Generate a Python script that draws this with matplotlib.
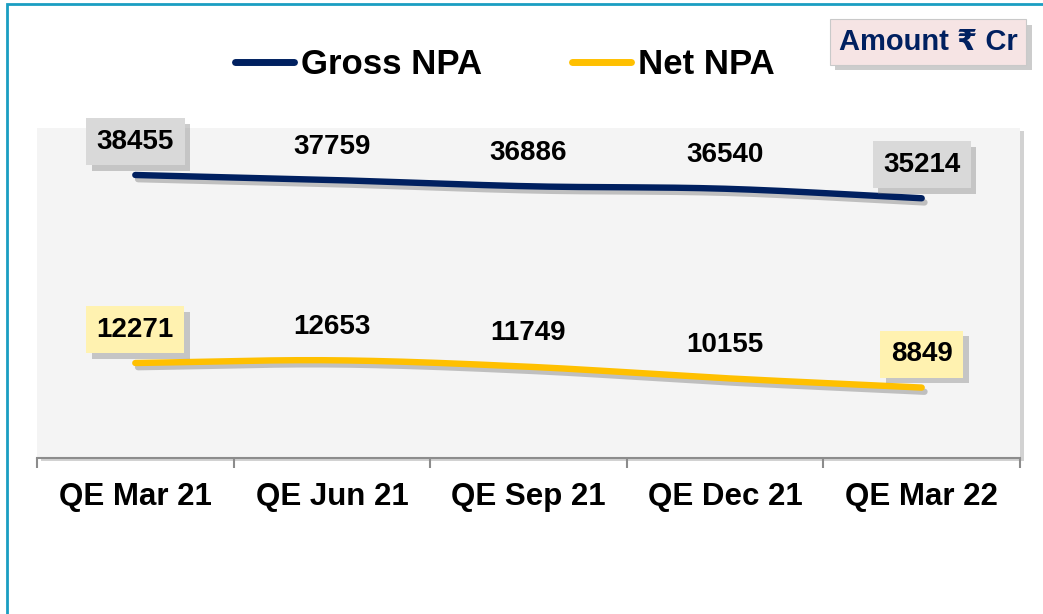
import numpy as np
import matplotlib.pyplot as plt
import matplotlib.patheffects as pe
from matplotlib.lines import Line2D
from matplotlib.patches import Rectangle

quarters = ['QE Mar 21', 'QE Jun 21', 'QE Sep 21', 'QE Dec 21', 'QE Mar 22']
gross_npa = [38455, 37759, 36886, 36540, 35214]
net_npa = [12271, 12653, 11749, 10155, 8849]

NAVY = '#002060'
GOLD = '#ffc000'

plt.rcParams['font.family'] = ['Liberation Sans', 'DejaVu Sans']
plt.rcParams['font.weight'] = 'bold'


def smooth(xs, ys, n=40):
    # Catmull-Rom curve through the points, like a smoothed office line chart
    xs = np.asarray(xs, float)
    ys = np.asarray(ys, float)
    px = np.concatenate([[2 * xs[0] - xs[1]], xs, [2 * xs[-1] - xs[-2]]])
    py = np.concatenate([[2 * ys[0] - ys[1]], ys, [2 * ys[-1] - ys[-2]]])
    out_x, out_y = [], []
    t = np.linspace(0, 1, n)
    for i in range(1, len(px) - 2):
        for arr, out in ((px, out_x), (py, out_y)):
            p0, p1, p2, p3 = arr[i - 1], arr[i], arr[i + 1], arr[i + 2]
            seg = 0.5 * ((2 * p1) + (-p0 + p2) * t
                         + (2 * p0 - 5 * p1 + 4 * p2 - p3) * t ** 2
                         + (-p0 + 3 * p1 - 3 * p2 + p3) * t ** 3)
            out.extend(seg)
    return np.array(out_x), np.array(out_y)


fig = plt.figure(figsize=(10.43, 6.14), dpi=100)
ax = fig.add_axes([37 / 1043, 1 - 458 / 614, 983 / 1043, 330 / 614])

# teal frame around the slide area
fig.add_artist(Rectangle((6.5 / 1043, -0.1), 1.2, 1 - 3.5 / 614 + 0.1,
                         transform=fig.transFigure, fill=False,
                         edgecolor='#1a9ec2', linewidth=2))

ax.set_facecolor('#f4f4f4')
ax.patch.set_path_effects([pe.SimplePatchShadow(offset=(3, -2), shadow_rgbFace='gray', alpha=0.35),
                           pe.Normal()])
x = np.arange(len(quarters))
ax.set_xlim(-0.5, len(quarters) - 0.5)
ax.set_ylim(-960, 45000)

line_fx = [pe.SimpleLineShadow(offset=(2, -3), shadow_color='gray', alpha=0.45), pe.Normal()]
for values, color in ((gross_npa, NAVY), (net_npa, GOLD)):
    sx, sy = smooth(x, values)
    ax.plot(sx, sy, color=color, linewidth=4.6, solid_capstyle='round',
            path_effects=line_fx, zorder=3)

box_fx = [pe.SimplePatchShadow(offset=(4, -4), shadow_rgbFace='gray', alpha=0.4), pe.Normal()]
for values, box_color in ((gross_npa, '#d9d9d9'), (net_npa, '#fff2b0')):
    for i, v in enumerate(values):
        t = ax.annotate(f'{v}', (x[i], v), xytext=(0, 24), textcoords='offset points',
                        ha='center', va='center', fontsize=20, fontweight='bold',
                        color='black', zorder=5)
        if i in (0, len(values) - 1):
            t.set_bbox(dict(boxstyle='square,pad=0.38', facecolor=box_color,
                            edgecolor='none'))
            t.get_bbox_patch().set_path_effects(box_fx)

# category separators on the bottom axis
ax.set_xticks(np.arange(-0.5, len(quarters)), minor=False)
ax.set_xticklabels([])
ax.set_xticks(x, minor=True)
ax.set_xticklabels(quarters, minor=True, fontsize=22.5, fontweight='bold')
ax.tick_params(axis='x', which='major', length=7, width=1.5, color='#8c8c8c', direction='out')
ax.tick_params(axis='x', which='minor', length=0, pad=17)
ax.set_yticks([])
for side in ('left', 'top', 'right'):
    ax.spines[side].set_visible(False)
ax.spines['bottom'].set_color('#8c8c8c')
ax.spines['bottom'].set_linewidth(1.5)

handles = [Line2D([], [], color=NAVY, linewidth=5, solid_capstyle='round'),
           Line2D([], [], color=GOLD, linewidth=5, solid_capstyle='round')]
fig.legend(handles, ['Gross NPA', 'Net NPA'], loc='center', bbox_to_anchor=(505 / 1043, 1 - 65 / 614),
           ncol=2, frameon=False, handlelength=1.7, handletextpad=0.2, columnspacing=2.6,
           prop={'size': 25, 'weight': 'bold'})

unit = fig.text(928 / 1043, 1 - 42 / 614, 'Amount ₹ Cr', ha='center', va='center',
                fontsize=21, fontweight='bold', color=NAVY,
                bbox=dict(boxstyle='square,pad=0.3', facecolor='#f6e4e4', edgecolor='#c9c9c9',
                          linewidth=0.8))
unit.get_bbox_patch().set_path_effects(box_fx)

fig.savefig('out.png', dpi=100)
